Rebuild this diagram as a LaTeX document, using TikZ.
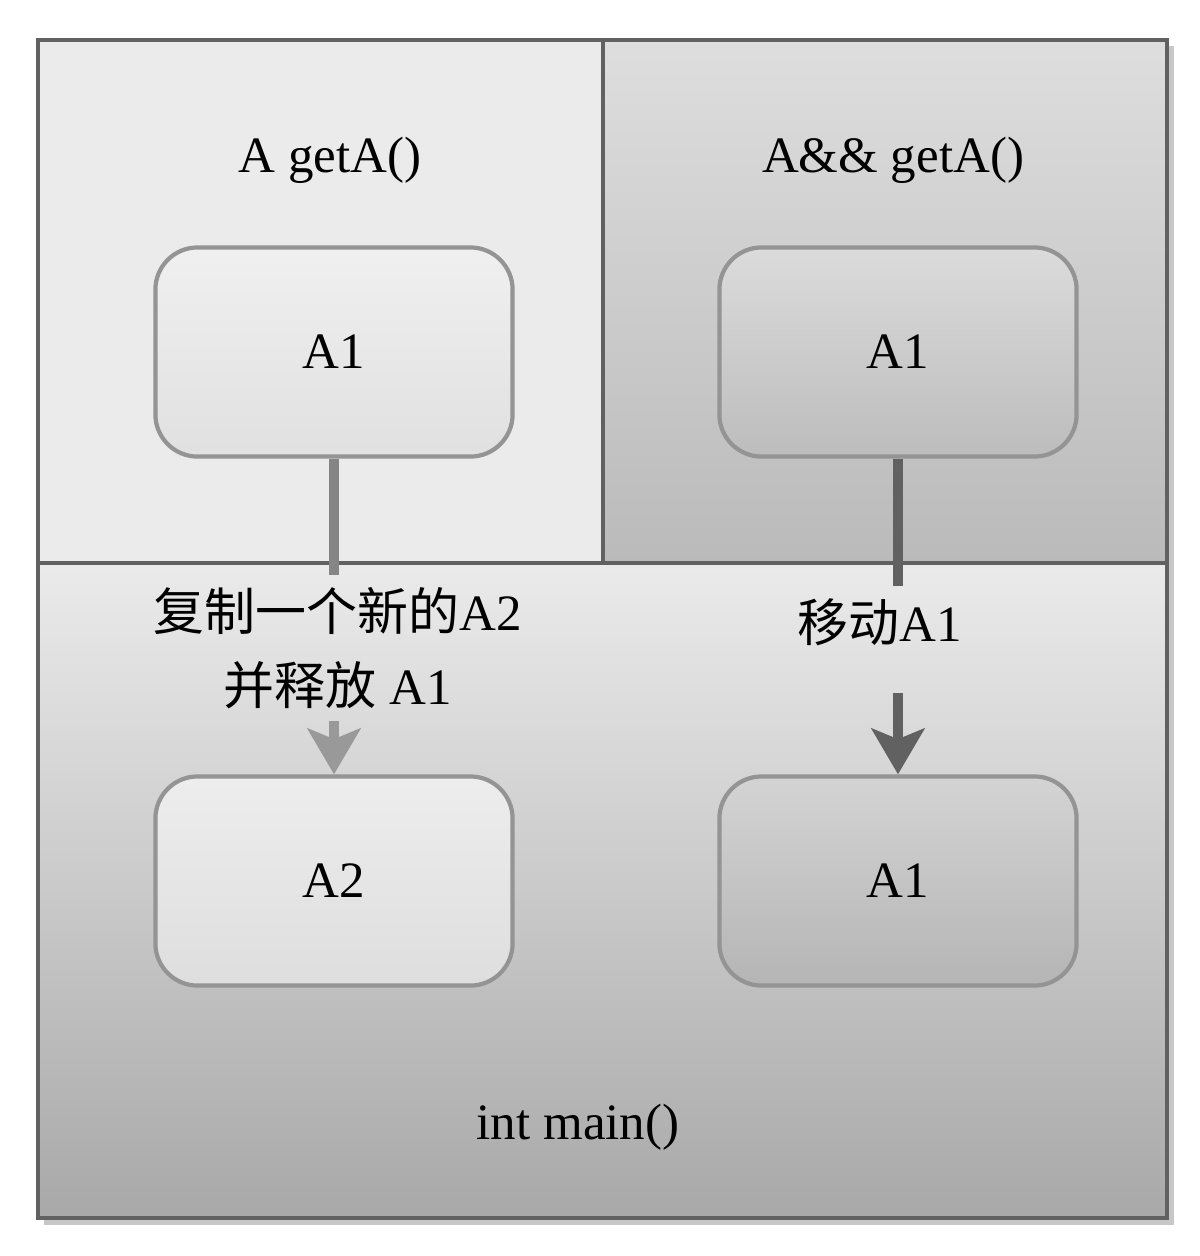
\documentclass[tikz,border=0pt]{standalone}
\usepackage{fontspec}
\setmainfont{Liberation Serif}
\newfontfamily\cjk{Noto Sans CJK SC}
\usetikzlibrary{arrows.meta, positioning}

\begin{document}
\begin{tikzpicture}[x=0.01cm, y=-0.01cm,
    >={Stealth[length=13pt, width=15pt, inset=3pt]},
    frame/.style={draw=black!62, line width=1pt},
    objbox/.style={draw=black!42, line width=1.2pt, rounded corners=12pt,
      minimum width=3.57cm, minimum height=2.09cm,
      font=\fontsize{14.5}{18}\selectfont},
    title/.style={font=\fontsize{14.5}{21}\selectfont},
    link/.style={line width=3pt}]

  \fill[white] (0,0) rectangle (1200,1256);
  \useasboundingbox (0,0) rectangle (1200,1256);

  % panels
  \fill[black!8] (38,40) rectangle (603,563);
  \shade[top color=black!13, bottom color=black!27] (603,40) rectangle (1167,563);
  \shade[top color=black!8, bottom color=black!34] (38,563) rectangle (1167,1218);
  \draw[black!22, line width=2pt] (44,1221) -- (1170,1221) -- (1170,46);
  \draw[frame] (38,40) rectangle (1167,1218);
  \draw[frame] (603,40) -- (603,563);
  \draw[frame] (38,563) -- (1167,563);

  \node[title] (lefttitle) at (330,160) {A getA()};
  \node[title] (righttitle) at (893,160) {A\&\& getA()};
  \node[title] (maintitle) at (578,1127) {int main()};

  \node[objbox, top color=black!6, bottom color=black!12] (retA) at (334,352) {A1};
  \node[objbox, top color=black!14, bottom color=black!26] (rvalA) at (898,352) {A1};
  \node[objbox, top color=black!7, bottom color=black!13] (copyA) at (334,881) {A2};
  \node[objbox, top color=black!17, bottom color=black!29] (moveA) at (898,881) {A1};

  \node[title, align=center] (copytext) at (338,648)
    {{\cjk 复制一个新的}A2\\{\cjk 并释放} A1};
  \node[title] (movetext) at (880,622) {{\cjk 移动}A1};

  \draw[link, black!48] (retA.south) -- (retA.south |- copytext.north);
  \draw[link, black!40, ->] (copyA.north |- copytext.south) -- (copyA.north);
  \draw[link, black!62] (rvalA.south) -- (rvalA.south |- movetext.north);
  \draw[link, black!62, ->, shorten <=0.35cm] (moveA.north |- movetext.south) -- (moveA.north);
\end{tikzpicture}
\end{document}
